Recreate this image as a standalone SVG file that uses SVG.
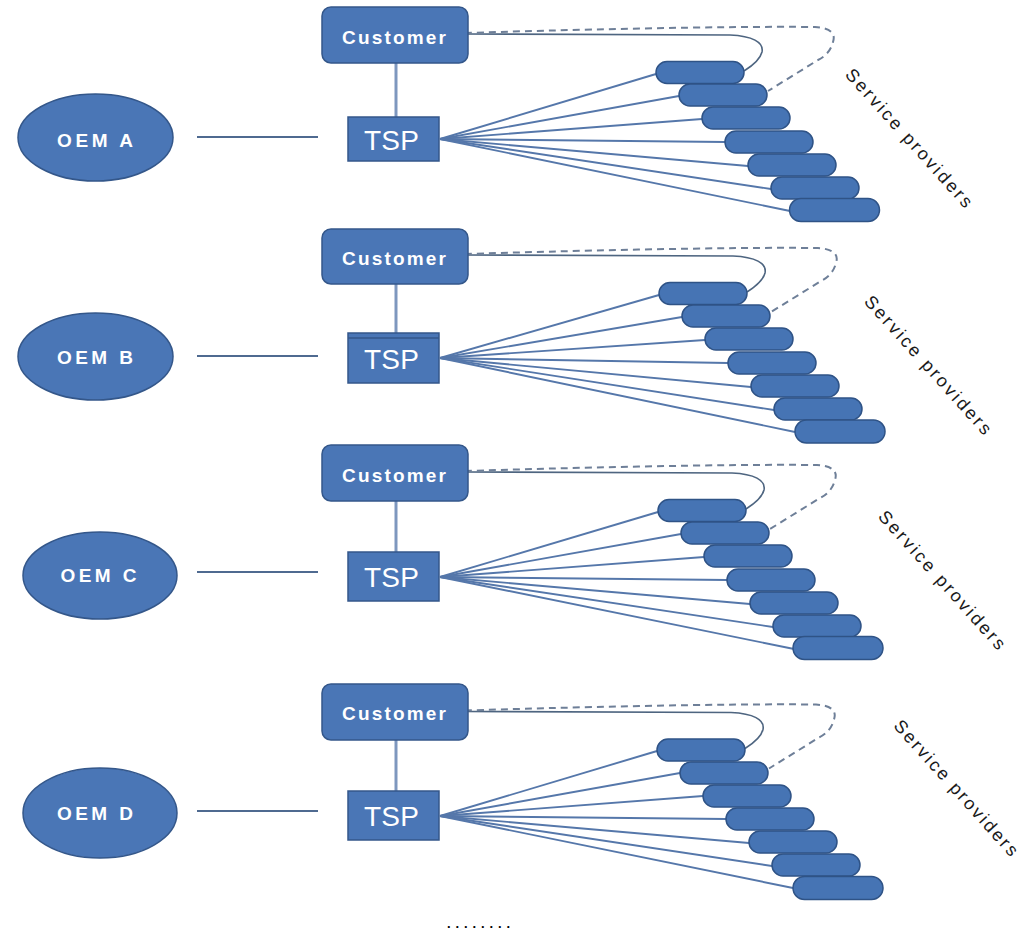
<svg xmlns="http://www.w3.org/2000/svg" width="1025" height="932" viewBox="0 0 1025 932">
<style>
.node{fill:#4A76B6;stroke:#34578A;stroke-width:1.5}
.pill{fill:#4674B4;stroke:#2F5386;stroke-width:1.5}
.lbl{fill:#ffffff;font-family:"Liberation Sans",Arial,sans-serif;text-anchor:middle}
.b{font-weight:bold}
.link{stroke:#4F6A90;stroke-width:2;fill:none}
.vlink{stroke:#7E97BE;stroke-width:3;fill:none}
.fan{stroke:#5577AA;stroke-width:1.9;fill:none}
.solid{stroke:#4E6580;stroke-width:1.6;fill:none}
.dash{stroke:#6E7F98;stroke-width:2;fill:none;stroke-dasharray:7 5}
.sp{fill:#1a1a1a;font-family:"Liberation Sans",Arial,sans-serif;font-size:18px;text-anchor:middle;dominant-baseline:central}
</style>
<rect width="1025" height="932" fill="#ffffff"/>
<g id="connectors">
  <line class="link" x1="197" y1="137" x2="318" y2="137"/>
  <line class="link" x1="197" y1="356" x2="318" y2="356"/>
  <line class="link" x1="197" y1="572" x2="318" y2="572"/>
  <line class="link" x1="197" y1="811" x2="318" y2="811"/>
  <line class="vlink" x1="396" y1="63" x2="396" y2="117"/>
  <line class="vlink" x1="396" y1="284" x2="396" y2="333"/>
  <line class="vlink" x1="396" y1="501" x2="396" y2="552"/>
  <line class="vlink" x1="396" y1="740" x2="396" y2="791"/>
  <g id="fan-a">
    <line class="fan" x1="440" y1="139" x2="656" y2="74"/>
    <line class="fan" x1="440" y1="139" x2="679" y2="96"/>
    <line class="fan" x1="440" y1="139" x2="702" y2="119"/>
    <line class="fan" x1="440" y1="139" x2="725" y2="142"/>
    <line class="fan" x1="440" y1="139" x2="748" y2="166"/>
    <line class="fan" x1="440" y1="139" x2="771" y2="189"/>
    <line class="fan" x1="440" y1="139" x2="790" y2="211"/>
  </g>
  <g id="fan-b">
    <line class="fan" x1="440" y1="358" x2="659" y2="295"/>
    <line class="fan" x1="440" y1="358" x2="682" y2="317"/>
    <line class="fan" x1="440" y1="358" x2="705" y2="340"/>
    <line class="fan" x1="440" y1="358" x2="728" y2="363"/>
    <line class="fan" x1="440" y1="358" x2="751" y2="387"/>
    <line class="fan" x1="440" y1="358" x2="774" y2="410"/>
    <line class="fan" x1="440" y1="358" x2="795" y2="432"/>
  </g>
  <g id="fan-c">
    <line class="fan" x1="440" y1="577" x2="658" y2="512"/>
    <line class="fan" x1="440" y1="577" x2="681" y2="534"/>
    <line class="fan" x1="440" y1="577" x2="704" y2="557"/>
    <line class="fan" x1="440" y1="577" x2="727" y2="580"/>
    <line class="fan" x1="440" y1="577" x2="750" y2="604"/>
    <line class="fan" x1="440" y1="577" x2="773" y2="627"/>
    <line class="fan" x1="440" y1="577" x2="794" y2="649"/>
  </g>
  <g id="fan-d">
    <line class="fan" x1="440" y1="816" x2="657" y2="751"/>
    <line class="fan" x1="440" y1="816" x2="680" y2="773"/>
    <line class="fan" x1="440" y1="816" x2="703" y2="796"/>
    <line class="fan" x1="440" y1="816" x2="726" y2="819"/>
    <line class="fan" x1="440" y1="816" x2="749" y2="843"/>
    <line class="fan" x1="440" y1="816" x2="772" y2="866"/>
    <line class="fan" x1="440" y1="816" x2="793" y2="888"/>
  </g>
  <g id="curves-a">
    <path class="solid" d="M465,34 L730,35 C752,36 764,42 762,52 C760,60 752,66 744,71"/>
    <path class="dash" d="M465,33 C560,30 720,26 815,27 C830,28 836,33 833,42 C831,50 826,56 818,60 L768,91"/>
  </g>
  <g id="curves-b" transform="translate(3,221)">
    <path class="solid" d="M462,34 L730,35 C752,36 764,42 762,52 C760,60 752,66 744,71"/>
    <path class="dash" d="M462,33 C560,30 720,26 815,27 C830,28 836,33 833,42 C831,50 826,56 818,60 L768,91"/>
  </g>
  <g id="curves-c" transform="translate(2,438)">
    <path class="solid" d="M463,34 L730,35 C752,36 764,42 762,52 C760,60 752,66 744,71"/>
    <path class="dash" d="M463,33 C560,30 720,26 815,27 C830,28 836,33 833,42 C831,50 826,56 818,60 L768,91"/>
  </g>
  <g id="curves-d" transform="translate(1,677.5)">
    <path class="solid" d="M464,34 L730,35 C752,36 764,42 762,52 C760,60 752,66 744,71"/>
    <path class="dash" d="M464,33 C560,30 720,26 815,27 C830,28 836,33 833,42 C831,50 826,56 818,60 L768,91"/>
  </g>
</g>

<g id="oem-a"><ellipse class="node" cx="95.5" cy="137.5" rx="77.5" ry="43.5"/><text class="lbl b" x="95" y="147" font-size="19" textLength="76" lengthAdjust="spacing">OEM A</text></g>
<g id="customer-a"><rect class="node" x="322" y="7" width="146" height="56" rx="9"/><text class="lbl b" x="394" y="43.5" font-size="19" textLength="104" lengthAdjust="spacing">Customer</text></g>
<g id="tsp-a"><rect class="node" x="348" y="117" width="91" height="44"/><text class="lbl" x="391.5" y="150" font-size="28" textLength="55" lengthAdjust="spacing">TSP</text></g>
<g id="sp-a1" transform="translate(700,72.5)"><rect class="pill" x="-44" y="-11" width="88" height="22" rx="11"/></g>
<g id="sp-a2" transform="translate(723,95)"><rect class="pill" x="-44" y="-11" width="88" height="22" rx="11"/></g>
<g id="sp-a3" transform="translate(746,118)"><rect class="pill" x="-44" y="-11" width="88" height="22" rx="11"/></g>
<g id="sp-a4" transform="translate(769,142)"><rect class="pill" x="-44" y="-11" width="88" height="22" rx="11"/></g>
<g id="sp-a5" transform="translate(792,165)"><rect class="pill" x="-44" y="-11" width="88" height="22" rx="11"/></g>
<g id="sp-a6" transform="translate(815,188)"><rect class="pill" x="-44" y="-11" width="88" height="22" rx="11"/></g>
<g id="sp-a7" transform="translate(834.5,210)"><rect class="pill" x="-45" y="-11.5" width="90" height="23" rx="11.5"/></g>
<text id="label-a" class="sp" transform="translate(909,138) rotate(48)" textLength="180" lengthAdjust="spacing">Service providers</text>

<g id="oem-b"><ellipse class="node" cx="95.5" cy="356.5" rx="77.5" ry="43.5"/><text class="lbl b" x="95" y="363.5" font-size="19" textLength="76" lengthAdjust="spacing">OEM B</text></g>
<g id="customer-b"><rect class="node" x="322" y="229" width="146" height="55" rx="9"/><text class="lbl b" x="394" y="265" font-size="19" textLength="104" lengthAdjust="spacing">Customer</text></g>
<g id="tsp-b"><rect class="node" x="348" y="333" width="91" height="50"/><line x1="348" y1="338" x2="439" y2="338" stroke="#34578A" stroke-width="1.5"/><text class="lbl" x="391.5" y="368.5" font-size="28" textLength="55" lengthAdjust="spacing">TSP</text></g>
<g id="sp-b1" transform="translate(703,293.5)"><rect class="pill" x="-44" y="-11" width="88" height="22" rx="11"/></g>
<g id="sp-b2" transform="translate(726,316)"><rect class="pill" x="-44" y="-11" width="88" height="22" rx="11"/></g>
<g id="sp-b3" transform="translate(749,339)"><rect class="pill" x="-44" y="-11" width="88" height="22" rx="11"/></g>
<g id="sp-b4" transform="translate(772,363)"><rect class="pill" x="-44" y="-11" width="88" height="22" rx="11"/></g>
<g id="sp-b5" transform="translate(795,386)"><rect class="pill" x="-44" y="-11" width="88" height="22" rx="11"/></g>
<g id="sp-b6" transform="translate(818,409)"><rect class="pill" x="-44" y="-11" width="88" height="22" rx="11"/></g>
<g id="sp-b7" transform="translate(840,431.5)"><rect class="pill" x="-45" y="-11.5" width="90" height="23" rx="11.5"/></g>
<text id="label-b" class="sp" transform="translate(928,365) rotate(48)" textLength="180" lengthAdjust="spacing">Service providers</text>

<g id="oem-c"><ellipse class="node" cx="100" cy="575.5" rx="77" ry="43.5"/><text class="lbl b" x="98.5" y="581.5" font-size="19" textLength="76" lengthAdjust="spacing">OEM C</text></g>
<g id="customer-c"><rect class="node" x="322" y="445" width="146" height="56" rx="9"/><text class="lbl b" x="394" y="481.5" font-size="19" textLength="104" lengthAdjust="spacing">Customer</text></g>
<g id="tsp-c"><rect class="node" x="348" y="552" width="91" height="49"/><text class="lbl" x="391.5" y="586.5" font-size="28" textLength="55" lengthAdjust="spacing">TSP</text></g>
<g id="sp-c1" transform="translate(702,510.5)"><rect class="pill" x="-44" y="-11" width="88" height="22" rx="11"/></g>
<g id="sp-c2" transform="translate(725,533)"><rect class="pill" x="-44" y="-11" width="88" height="22" rx="11"/></g>
<g id="sp-c3" transform="translate(748,556)"><rect class="pill" x="-44" y="-11" width="88" height="22" rx="11"/></g>
<g id="sp-c4" transform="translate(771,580)"><rect class="pill" x="-44" y="-11" width="88" height="22" rx="11"/></g>
<g id="sp-c5" transform="translate(794,603)"><rect class="pill" x="-44" y="-11" width="88" height="22" rx="11"/></g>
<g id="sp-c6" transform="translate(817,626)"><rect class="pill" x="-44" y="-11" width="88" height="22" rx="11"/></g>
<g id="sp-c7" transform="translate(838,648)"><rect class="pill" x="-45" y="-11.5" width="90" height="23" rx="11.5"/></g>
<text id="label-c" class="sp" transform="translate(942,580) rotate(48)" textLength="180" lengthAdjust="spacing">Service providers</text>

<g id="oem-d"><ellipse class="node" cx="100" cy="813" rx="77" ry="45"/><text class="lbl b" x="95" y="820" font-size="19" textLength="76" lengthAdjust="spacing">OEM D</text></g>
<g id="customer-d"><rect class="node" x="322" y="684" width="146" height="56" rx="9"/><text class="lbl b" x="394" y="720" font-size="19" textLength="104" lengthAdjust="spacing">Customer</text></g>
<g id="tsp-d"><rect class="node" x="348" y="791" width="91" height="49"/><text class="lbl" x="391.5" y="826" font-size="28" textLength="55" lengthAdjust="spacing">TSP</text></g>
<g id="sp-d1" transform="translate(701,750)"><rect class="pill" x="-44" y="-11" width="88" height="22" rx="11"/></g>
<g id="sp-d2" transform="translate(724,773)"><rect class="pill" x="-44" y="-11" width="88" height="22" rx="11"/></g>
<g id="sp-d3" transform="translate(747,796)"><rect class="pill" x="-44" y="-11" width="88" height="22" rx="11"/></g>
<g id="sp-d4" transform="translate(770,819)"><rect class="pill" x="-44" y="-11" width="88" height="22" rx="11"/></g>
<g id="sp-d5" transform="translate(793,842)"><rect class="pill" x="-44" y="-11" width="88" height="22" rx="11"/></g>
<g id="sp-d6" transform="translate(816,865)"><rect class="pill" x="-44" y="-11" width="88" height="22" rx="11"/></g>
<g id="sp-d7" transform="translate(838,888)"><rect class="pill" x="-45" y="-11.5" width="90" height="23" rx="11.5"/></g>
<text id="label-d" class="sp" transform="translate(956,788) rotate(48)" textLength="176" lengthAdjust="spacing">Service providers</text>

<text id="ellipsis" x="447" y="928" font-family="Liberation Sans, Arial, sans-serif" font-size="13" font-weight="bold" fill="#000000" textLength="63" lengthAdjust="spacing">........</text>
</svg>
